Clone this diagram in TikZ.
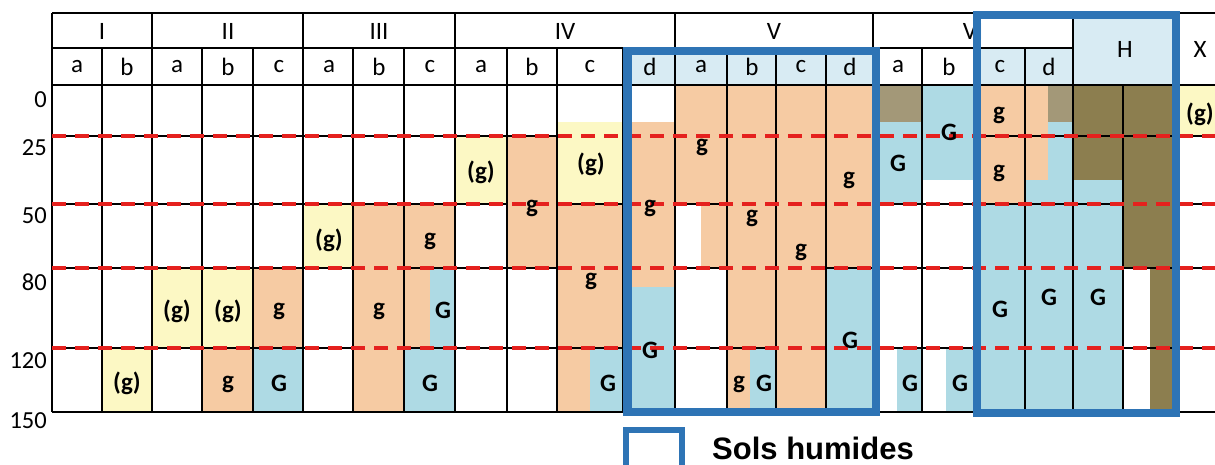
\documentclass[tikz,border=0pt]{standalone}
\usepackage{fontspec}
\setmainfont{Carlito}
\newfontfamily\legendfont{Liberation Sans}
\definecolor{cY}{HTML}{FCF8C4}
\definecolor{cO}{HTML}{F6CBA3}
\definecolor{cB}{HTML}{AEDAE4}
\definecolor{cOl}{HTML}{8C7E4F}
\definecolor{cGo}{HTML}{A39878}
\definecolor{cHd}{HTML}{D8EBF3}
\definecolor{cFr}{HTML}{2E74B5}
\definecolor{cRd}{HTML}{E5211E}
\tikzset{
  grid/.style={line width=2.2pt, black},
  reddash/.style={cRd, line width=3.5pt, dash pattern=on 14pt off 9pt},
  frame/.style={cFr, line width=8.5pt},
  hdr/.style={font=\fontsize{25}{25}\selectfont, inner sep=0pt},
  num/.style={font=\fontsize{24.5}{24.5}\selectfont, inner sep=0pt, anchor=east},
  lab/.style={font=\fontsize{25}{25}\selectfont\bfseries, inner sep=0pt},
}
\begin{document}
\begin{tikzpicture}[x=1pt,y=-1pt]
\useasboundingbox (0,0) rectangle (1215,464);
\clip (0,0) rectangle (1215,464);
% header light blue
\fill[cHd] (623,48) rectangle (873,85);
\fill[cHd] (975,48) rectangle (1073,85);
\fill[cHd] (1073,13) rectangle (1177,85);
% yellow
\foreach \a/\b/\c/\d in {102/348/152/412, 152/268/202/348, 202/268/253/348, 303/204/353/268,
  455/136/507/204, 557/122/623/204, 1177/85/1215/136}
  \fill[cY] (\a,\b) rectangle (\c,\d);
% orange
\foreach \a/\b/\c/\d in {202/348/253/412, 253/268/303/348, 353/204/404/412, 404/204/455/268,
  404/268/430/348, 507/136/557/268, 557/204/623/348, 557/348/590/412, 623/122/675/287,
  675/85/727/204, 701/204/727/268, 727/85/776/348, 727/348/750/412, 776/85/826/412,
  826/85/873/268, 975/85/1025/204, 1025/85/1048/180}
  \fill[cO] (\a,\b) rectangle (\c,\d);
% blue
\foreach \a/\b/\c/\d in {253/348/303/412, 430/268/455/348, 404/348/455/412, 590/348/623/412,
  623/287/675/412, 750/348/776/412, 826/268/873/412, 873/122/922/204, 897/348/922/412,
  922/85/975/180, 946/348/975/412, 975/204/1025/412, 1048/122/1073/180, 1025/180/1073/412,
  1073/180/1123/412}
  \fill[cB] (\a,\b) rectangle (\c,\d);
% olive
\foreach \a/\b/\c/\d in {1073/85/1123/180, 1123/85/1177/268, 1150/268/1177/412}
  \fill[cOl] (\a,\b) rectangle (\c,\d);
\foreach \a/\b/\c/\d in {873/85/922/122, 1048/85/1073/122}
  \fill[cGo] (\a,\b) rectangle (\c,\d);
% horizontal grid lines
\foreach \a/\c/\y in {52/1215/13, 52/1073/48, 52/1215/85, 52/1215/412,
  52/557/136, 975/1215/136,
  52/507/204, 557/623/204, 675/727/204, 873/1123/204, 1177/1215/204,
  52/353/268, 404/557/268, 675/727/268, 826/975/268, 1123/1215/268,
  52/353/348, 404/623/348, 675/776/348, 873/975/348, 1123/1215/348}
  \draw[grid] (\a,\y) -- (\c,\y);
% vertical grid lines
\foreach \x in {52,152,303,455,675,873,1073,1177}
  \draw[grid] (\x,13) -- (\x,412);
\foreach \x in {102,202,253,353,404,507,557,623,727,776,826,922,975,1025}
  \draw[grid] (\x,48) -- (\x,412);
\draw[grid] (1123,85) -- (1123,412);
% red dashed depth lines
\foreach \y in {136,204,268,348}
  \draw[reddash] (52,\y) -- (1215,\y);
% header texts
\node[hdr] (hI) at (102,31) {I};
\node[hdr] (hII) at (228,31) {II};
\node[hdr] (hIII) at (379,31) {III};
\node[hdr] (hIV) at (565,31) {IV};
\node[hdr] (hV) at (774,31) {V};
\node[hdr] (hVI) at (973,31) {VI};
\node[hdr] (hH) at (1125,49) {H};
\node[hdr] (hX) at (1200,49) {X};
\foreach \x/\t [count=\i] in {77/a,127/b,177/a,228/b,279/c,329/a,379/b,430/c,481/a,532/b,590/c,650/d,701/a,752/b,801/c,850/d,898/a,949/b,1000/c,1049/d}
  \node[hdr] (s\i) at (\x,67) {\t};
% depth numbers
\foreach \y/\t [count=\i] in {100/0,148/25,216/50,282/80,361/120,421/150}
  \node[num] (n\i) at (47,\y) {\t};
% cell labels
\foreach \x/\y/\t [count=\i] in {
  127/383/(g), 177/311/(g), 228/311/(g), 228/384/g, 279/311/g, 279/383/G,
  329/240/(g), 379/311/g, 430/241/g, 443/310/G, 430/383/G,
  481/172/(g), 532/208/g, 591/164/(g), 591/281/g, 608/383/G,
  650/208/g, 650/350/G, 702/147/g, 752/218/g, 739/384/g, 764/383/G,
  801/252/g, 849/180/g, 850/340/G,
  898/163/G, 910/383/G, 949/132/G, 960/383/G,
  999/115/g, 999/173/g, 1000/309/G, 1049/297/G, 1098/297/G, 1200/114/(g)}
  \node[lab] (c\i) at (\x,\y) {\t};
% wetland frames
\draw[frame] (627.5,51) rectangle (876,412);
\draw[frame] (977,15) rectangle (1176,413);
% legend
\draw[cFr, line width=6.5pt] (626,490) -- (626,430) -- (682,430) -- (682,490);
\node[font=\legendfont\fontsize{31}{31}\selectfont\bfseries, anchor=base west, inner sep=0pt] (leg) at (712,459) {Sols humides};
\end{tikzpicture}
\end{document}
